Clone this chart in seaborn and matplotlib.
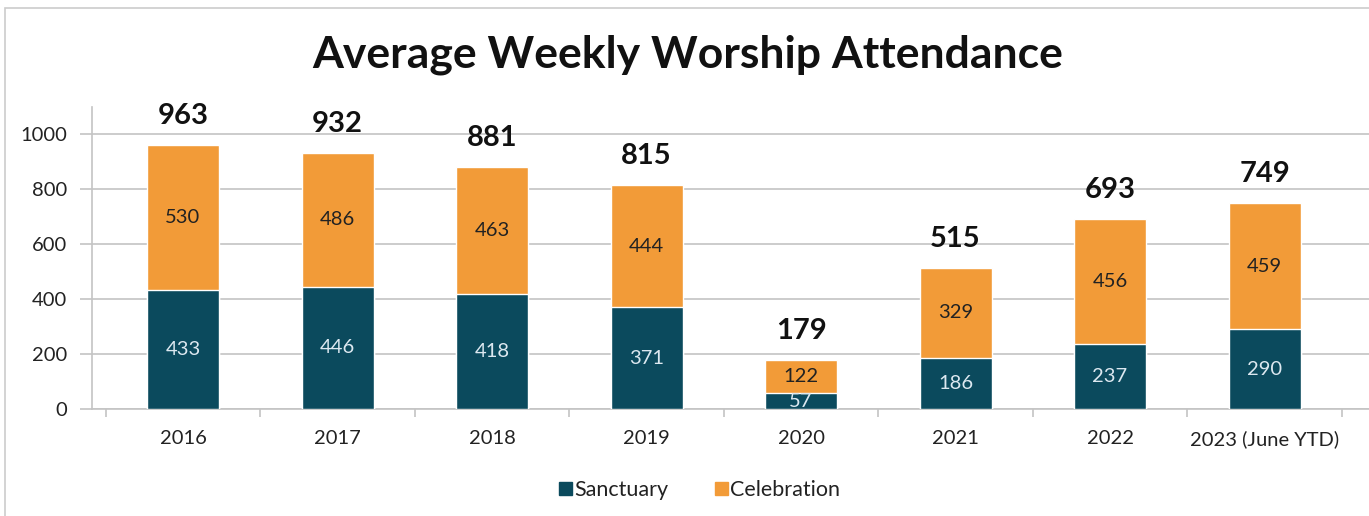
import matplotlib
matplotlib.use("Agg")
import matplotlib.pyplot as plt
import matplotlib.patches as mpatches
import seaborn as sns
import pandas as pd

# data
years = ["2016", "2017", "2018", "2019", "2020", "2021", "2022", "2023 (June YTD)"]
sanctuary = [433, 446, 418, 371, 57, 186, 237, 290]
celebration = [530, 486, 463, 444, 122, 329, 456, 459]
totals = [963, 932, 881, 815, 179, 515, 693, 749]

teal = "#0b4a5d"
orange = "#f29b38"
grid_col = "#c4c4c4"

sns.set_theme(style="white")
plt.rcParams["font.family"] = ["Lato", "DejaVu Sans"]

df = pd.DataFrame({"Year": years, "Sanctuary": sanctuary,
                   "Celebration": celebration, "Total": totals})

fig = plt.figure(figsize=(13.69, 5.16), dpi=100)
ax = fig.add_axes([92 / 1369, 1 - 409 / 516, 1 - 92 / 1369, 302 / 516])

# stacked bars: full total in orange, sanctuary drawn over it
sns.barplot(data=df, x="Year", y="Total", color=orange, width=0.466,
            saturation=1, ax=ax, zorder=3)
sns.barplot(data=df, x="Year", y="Sanctuary", color=teal, width=0.466,
            saturation=1, ax=ax, zorder=3)

ax.set_ylim(0, 1100)
ax.set_xlim(-0.589, 7.676)
ax.set_yticks(range(0, 1001, 200))
ax.set_xlabel("")
ax.set_ylabel("")

# grid and axes look
ax.yaxis.grid(True, color=grid_col, linewidth=1.2, zorder=0)
ax.set_axisbelow(True)
for s in ["top", "right"]:
    ax.spines[s].set_visible(False)
ax.spines["left"].set_color(grid_col)
ax.spines["bottom"].set_color(grid_col)
ax.spines["left"].set_linewidth(1.2)
ax.spines["bottom"].set_linewidth(1.2)
ax.tick_params(axis="y", length=9, color=grid_col, width=1.2, labelsize=14.5,
               labelcolor="#222222", pad=9, left=True)
ax.tick_params(axis="x", which="major", length=0, labelsize=14.5,
               labelcolor="#222222", pad=15)
ax.set_xticks([i + 0.5 for i in range(-1, len(years))], minor=True)
ax.tick_params(axis="x", which="minor", length=6, color=grid_col, width=1.2,
               bottom=True)

# segment labels
for i in range(len(years)):
    ax.text(i, sanctuary[i] / 2, str(sanctuary[i]), ha="center", va="center",
            fontsize=14.5, color="#dce8f0", zorder=5)
    ax.text(i, sanctuary[i] + celebration[i] / 2, str(celebration[i]),
            ha="center", va="center", fontsize=14.5, color="#222222", zorder=5)
    ax.text(i, totals[i] + 58, str(totals[i]), ha="center", va="bottom",
            fontsize=21, fontweight="bold", color="#111111", zorder=5)

fig.text(0.502, 1 - 55 / 516, "Average Weekly Worship Attendance",
         ha="center", va="center", fontsize=32, fontweight="bold",
         color="#111111")

handles = [mpatches.Patch(color=teal, label="Sanctuary"),
           mpatches.Patch(color=orange, label="Celebration")]
fig.legend(handles=handles, loc="center", bbox_to_anchor=(0.511, 1 - 490 / 516),
           ncol=2, frameon=False, fontsize=15.5, handlelength=0.6,
           handleheight=0.6, handletextpad=0.1, columnspacing=2.2,
           labelcolor="#222222")

# light chart border
fig.patches.append(mpatches.Rectangle((5 / 1369, -0.1), 1.1, 1 - 8 / 516 + 0.1,
                                      transform=fig.transFigure, fill=False,
                                      edgecolor="#cccccc", linewidth=1.2))

fig.savefig("out.png", dpi=100)
